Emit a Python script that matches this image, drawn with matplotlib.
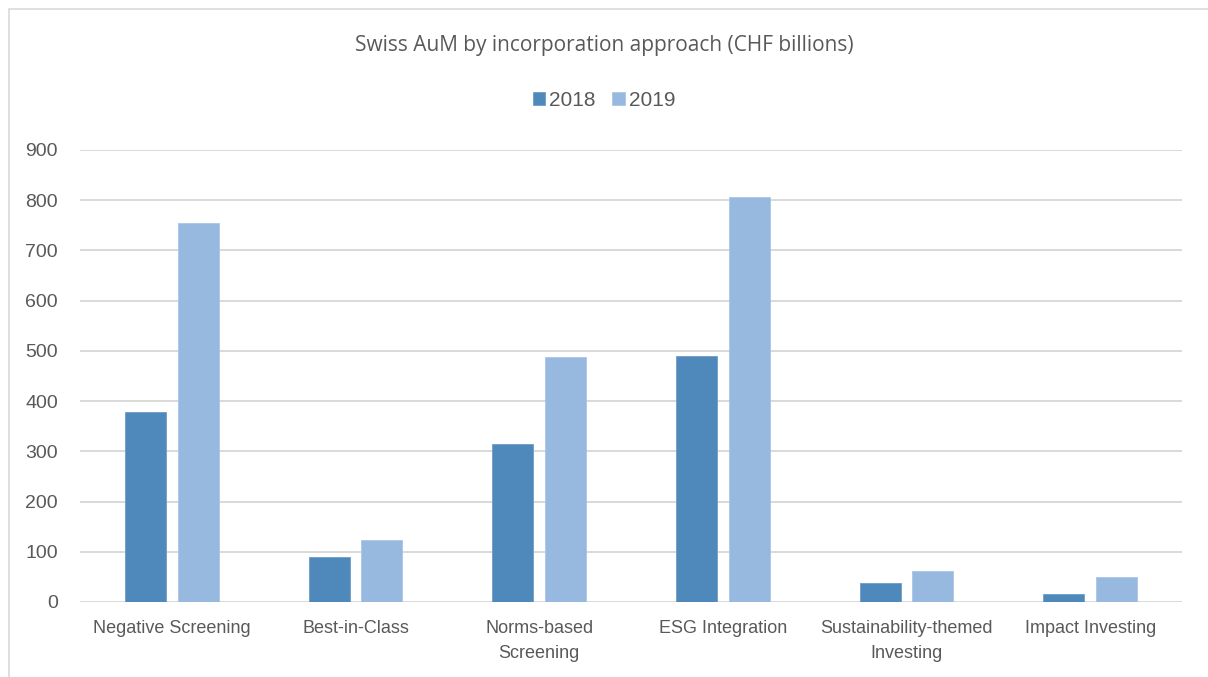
import matplotlib
matplotlib.use("Agg")
import matplotlib.pyplot as plt
import numpy as np
from matplotlib.patches import Rectangle

categories = ["Negative Screening", "Best-in-Class", "Norms-based\nScreening",
              "ESG Integration", "Sustainability-themed\nInvesting", "Impact Investing"]
series_names = ["2018", "2019"]
values_2018 = [379, 90, 315, 490, 38, 16]
values_2019 = [755, 124, 488, 807, 62, 50]
yticks = [0, 100, 200, 300, 400, 500, 600, 700, 800, 900]
title = "Swiss AuM by incorporation approach (CHF billions)"

c2018 = "#4f88bb"
c2019 = "#97b9df"
txt = "#595959"
sans = ["Liberation Sans", "DejaVu Sans"]

W, H = 1208, 677
fig = plt.figure(figsize=(W / 100, H / 100), dpi=100)
fig.patch.set_facecolor("white")

# outer frame
fig.add_artist(Rectangle((9 / W, -0.05), 1.1, 1 - 9 / H + 0.05, transform=fig.transFigure,
                         fill=False, edgecolor="#d9d9d9", linewidth=1.2))

ax = fig.add_axes([80 / W, 1 - 602 / H, (1182 - 80) / W, (602 - 150) / H])
x = np.arange(len(categories))
bw = 0.223
off = 0.144
ax.bar(x - off, values_2018, bw, color=c2018, edgecolor="#6f9dc8", linewidth=0.6, label=series_names[0], zorder=3)
ax.bar(x + off, values_2019, bw, color=c2019, edgecolor="#a9c6e6", linewidth=0.6, label=series_names[1], zorder=3)

ax.set_xlim(-0.5, len(categories) - 0.5)
ax.set_ylim(0, 900)
ax.set_yticks(yticks)
ax.set_yticklabels([str(v) for v in yticks], family=sans, fontsize=14, color=txt)
ax.set_xticks(x)
ax.set_xticklabels(categories, family=sans, fontsize=13, color=txt, linespacing=1.6)
ax.tick_params(axis="both", length=0)
ax.tick_params(axis="y", pad=16)
ax.tick_params(axis="x", pad=13)
ax.yaxis.grid(True, color="#d9d9d9", linewidth=1.4, zorder=0)
for s in ax.spines.values():
    s.set_visible(False)

fig.text(0.5, 1 - 45 / H, title, ha="center", va="center", fontsize=15, color=txt,
         family=["Open Sans", "DejaVu Sans"])

leg = fig.legend(loc="center", bbox_to_anchor=(0.5, 1 - 100 / H), ncol=2, frameon=False,
                 prop={"family": sans, "size": 15}, handlelength=0.6, handleheight=0.6,
                 handletextpad=0.2, columnspacing=0.8)
for t in leg.get_texts():
    t.set_color(txt)

fig.savefig("out.png", dpi=100, facecolor="white")
